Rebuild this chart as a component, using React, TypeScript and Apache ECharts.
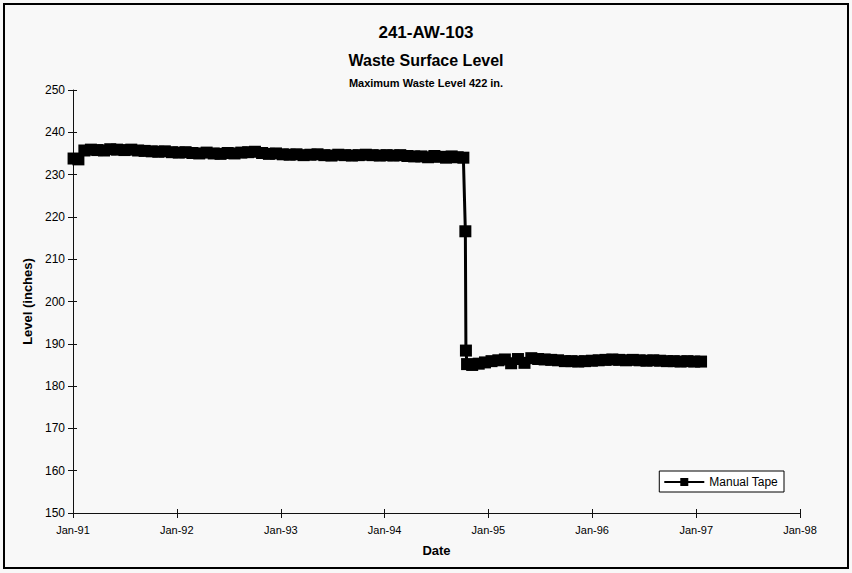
import React, { useEffect, useRef } from "react";
import * as echarts from "echarts";

const dates: string[] = [
  "1991-01-03", "1991-01-20", "1991-02-10", "1991-03-05", "1991-03-28", "1991-04-20", "1991-05-12",
  "1991-06-05", "1991-07-01", "1991-07-25", "1991-08-18", "1991-09-10", "1991-10-05", "1991-10-28",
  "1991-11-20", "1991-12-15", "1992-01-08", "1992-02-01", "1992-02-25", "1992-03-20", "1992-04-15",
  "1992-05-10", "1992-06-03", "1992-06-28", "1992-07-22", "1992-08-15", "1992-09-08", "1992-10-02",
  "1992-10-27", "1992-11-20", "1992-12-15", "1993-01-08", "1993-02-01", "1993-02-25", "1993-03-22",
  "1993-04-15", "1993-05-10", "1993-06-03", "1993-06-28", "1993-07-22", "1993-08-15", "1993-09-08",
  "1993-10-02", "1993-10-27", "1993-11-20", "1993-12-15", "1994-01-08", "1994-02-01", "1994-02-25",
  "1994-03-22", "1994-04-15", "1994-05-10", "1994-06-03", "1994-06-25", "1994-07-15", "1994-08-05",
  "1994-08-25", "1994-09-15", "1994-10-05", "1994-10-12", "1994-10-14", "1994-10-18", "1994-11-05",
  "1994-11-28", "1994-12-20", "1995-01-12", "1995-02-05", "1995-02-28", "1995-03-22", "1995-04-15",
  "1995-05-08", "1995-06-01", "1995-06-25", "1995-07-18", "1995-08-10", "1995-09-03", "1995-09-27",
  "1995-10-20", "1995-11-13", "1995-12-07", "1995-12-31", "1996-01-24", "1996-02-17", "1996-03-12",
  "1996-04-05", "1996-04-29", "1996-05-23", "1996-06-16", "1996-07-10", "1996-08-03", "1996-08-27",
  "1996-09-20", "1996-10-14", "1996-11-07", "1996-12-01", "1996-12-25", "1997-01-18",
];

const levels: number[] = [
  233.8, 233.6, 235.7, 235.9, 235.8, 235.7, 236.0,
  235.9, 235.8, 235.9, 235.7, 235.6, 235.5, 235.4,
  235.5, 235.3, 235.2, 235.3, 235.1, 235.0, 235.2,
  235.0, 234.9, 235.1, 235.0, 235.2, 235.3, 235.4,
  235.1, 234.9, 235.0, 234.8, 234.7, 234.8, 234.6,
  234.7, 234.8, 234.6, 234.5, 234.7, 234.6, 234.5,
  234.6, 234.7, 234.6, 234.5, 234.6, 234.5, 234.6,
  234.4, 234.3, 234.3, 234.1, 234.4, 234.2, 234.0,
  234.3, 234.1, 234.0, 216.6, 188.4, 185.2, 185.0,
  185.3, 185.6, 185.9, 186.1, 186.3, 185.4, 186.4,
  185.5, 186.6, 186.4, 186.3, 186.2, 186.1, 185.9,
  185.9, 185.8, 185.9, 186.0, 186.1, 186.2, 186.3,
  186.2, 186.1, 186.2, 186.1, 186.0, 186.1, 186.0,
  185.9, 185.9, 185.8, 185.9, 185.8, 185.8,
];

const yTicks: number[] = [150, 160, 170, 180, 190, 200, 210, 220, 230, 240, 250];
const xRange: string[] = ["1991-01-01", "1998-01-01"];
const titles: string[] = ["241-AW-103", "Waste Surface Level", "Maximum Waste Level 422 in."];
const seriesName = "Manual Tape";
const monthNames = ["Jan", "Feb", "Mar", "Apr", "May", "Jun", "Jul", "Aug", "Sep", "Oct", "Nov", "Dec"];

const FONT = "'Liberation Sans', Arial, sans-serif";

function toTs(d: string): number {
  const [y, m, dd] = d.split("-").map(Number);
  return Date.UTC(y, m - 1, dd);
}

export default function App() {
  const ref = useRef<HTMLDivElement>(null);
  useEffect(() => {
    document.body.style.margin = "0";
    if (!ref.current) return;
    const chart = echarts.init(ref.current, null, { renderer: "svg" });
    const data = dates.map((d, i) => [toTs(d), levels[i]]);
    const xMin = toTs(xRange[0]);
    const xMax = toTs(xRange[1]);
    const yMin = yTicks[0];
    const yMax = yTicks[yTicks.length - 1];
    const fmt = (v: number) => {
      const d = new Date(v);
      return monthNames[d.getUTCMonth()] + "-" + String(d.getUTCFullYear()).slice(2);
    };
    const year = 365 * 24 * 3600 * 1000;
    const axisLine = { show: true, lineStyle: { color: "#111", width: 1 } };
    chart.setOption({
      animation: false,
      useUTC: true,
      backgroundColor: "#f8f8f8",
      title: [
        { text: titles[0], left: "center", top: 19, textStyle: { fontFamily: FONT, fontSize: 17, fontWeight: "bold", color: "#000" } },
        { text: titles[1], left: "center", top: 47, textStyle: { fontFamily: FONT, fontSize: 16, fontWeight: "bold", color: "#000" } },
        { text: titles[2], left: "center", top: 72, textStyle: { fontFamily: FONT, fontSize: 11, fontWeight: "bold", color: "#000" } },
      ],
      legend: {
        right: 68,
        top: 471,
        data: [seriesName],
        itemWidth: 40,
        itemHeight: 10,
        itemGap: 4,
        padding: [5, 6, 4, 4],
        borderColor: "#000",
        borderWidth: 1,
        backgroundColor: "#fff",
        textStyle: { fontFamily: FONT, fontSize: 12, color: "#000" },
      },
      grid: { left: 73, right: 52, top: 90, bottom: 60 },
      xAxis: [
        {
          type: "time",
          min: xMin,
          max: xMax,
          minInterval: year,
          maxInterval: year + 24 * 3600 * 1000,
          splitNumber: 7,
          axisLine,
          axisTick: { show: true, length: 5, lineStyle: { color: "#111" } },
          axisLabel: { formatter: fmt, fontFamily: FONT, fontSize: 11, color: "#000", margin: 11, hideOverlap: false, showMinLabel: true, showMaxLabel: true },
          splitLine: { show: false },
          name: "Date",
          nameLocation: "middle",
          nameGap: 31,
          nameTextStyle: { fontFamily: FONT, fontSize: 13, fontWeight: "bold", color: "#000" },
        },
        {
          type: "time",
          min: xMin,
          max: xMax,
          minInterval: year,
          maxInterval: year + 24 * 3600 * 1000,
          splitNumber: 7,
          position: "bottom",
          axisLine: { show: false },
          axisTick: { show: true, inside: true, length: 4, lineStyle: { color: "#111" } },
          axisLabel: { show: false },
          splitLine: { show: false },
        },
      ],
      yAxis: [
        {
          type: "value",
          min: yMin,
          max: yMax,
          interval: 10,
          axisLine,
          axisTick: { show: true, length: 5, lineStyle: { color: "#111" } },
          axisLabel: { fontFamily: FONT, fontSize: 12, color: "#000", margin: 8 },
          splitLine: { show: false },
          name: "Level (inches)",
          nameLocation: "middle",
          nameGap: 39,
          nameRotate: 90,
          nameTextStyle: { fontFamily: FONT, fontSize: 13, fontWeight: "bold", color: "#000" },
        },
        {
          type: "value",
          min: yMin,
          max: yMax,
          interval: 10,
          position: "left",
          axisLine: { show: false },
          axisTick: { show: true, inside: true, length: 4, lineStyle: { color: "#111" } },
          axisLabel: { show: false },
          splitLine: { show: false },
        },
      ],
      series: [
        {
          name: seriesName,
          type: "line",
          data,
          symbol: "rect",
          symbolSize: [12, 12],
          lineStyle: { color: "#000", width: 3 },
          itemStyle: { color: "#000" },
        },
      ],
      graphic: [
        {
          type: "rect",
          shape: { x: 4, y: 4, width: 844, height: 564 },
          style: { fill: "none", stroke: "#000", lineWidth: 2 },
          silent: true,
          z: 100,
        },
      ],
    });
    return () => chart.dispose();
  }, []);
  return <div ref={ref} style={{ width: 852, height: 573 }} />;
}
